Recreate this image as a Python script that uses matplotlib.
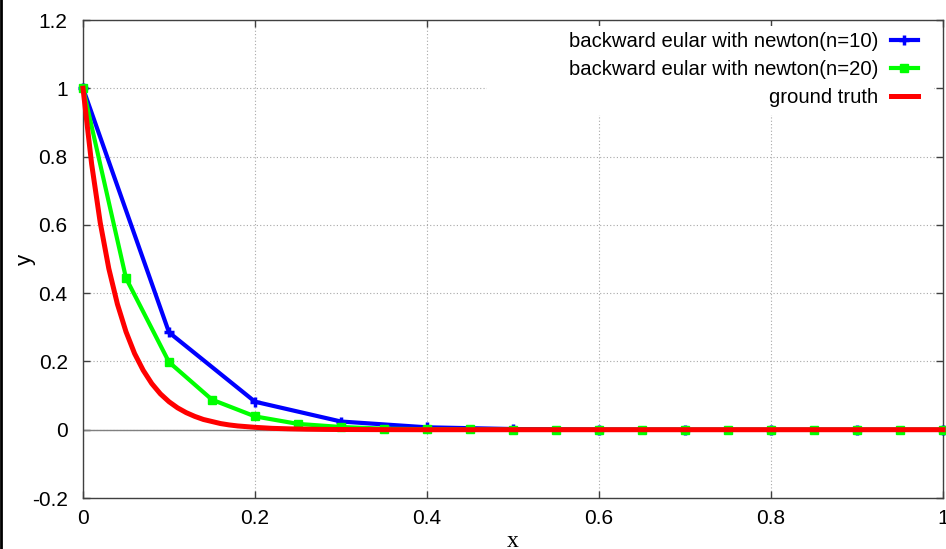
import matplotlib.pyplot as plt
from matplotlib.lines import Line2D
from matplotlib.patches import Rectangle

plt.rcParams['font.family'] = ['Liberation Sans', 'DejaVu Sans']

# backward euler with newton, 10 steps
x10 = [0.0, 0.1, 0.2, 0.3, 0.4, 0.5, 0.6, 0.7, 0.8, 0.9, 1.0]
y10 = [1.0, 0.285, 0.082, 0.024, 0.007, 0.002, 0.0005, 0.0001, 0.0, 0.0, 0.0]

# backward euler with newton, 20 steps
x20 = [0.0, 0.05, 0.1, 0.15, 0.2, 0.25, 0.3, 0.35, 0.4, 0.45, 0.5,
       0.55, 0.6, 0.65, 0.7, 0.75, 0.8, 0.85, 0.9, 0.95, 1.0]
y20 = [1.0, 0.444, 0.198, 0.088, 0.039, 0.017, 0.008, 0.003, 0.0015, 0.0007, 0.0003,
       0.0001, 0.0, 0.0, 0.0, 0.0, 0.0, 0.0, 0.0, 0.0, 0.0]

# ground truth curve
xg = [0.0, 0.01, 0.02, 0.03, 0.04, 0.05, 0.06, 0.07, 0.08, 0.09, 0.1,
      0.11, 0.12, 0.13, 0.14, 0.15, 0.16, 0.17, 0.18, 0.19, 0.2,
      0.22, 0.24, 0.26, 0.28, 0.3, 0.35, 0.4, 0.5, 0.6, 0.7, 0.8, 0.9, 1.0]
yg = [1.0, 0.779, 0.607, 0.472, 0.368, 0.287, 0.223, 0.174, 0.135, 0.105, 0.082,
      0.064, 0.050, 0.039, 0.030, 0.024, 0.018, 0.014, 0.011, 0.009, 0.007,
      0.004, 0.0025, 0.0015, 0.0009, 0.0006, 0.0002, 0.0, 0.0, 0.0, 0.0, 0.0, 0.0, 0.0]

labels = ['backward eular with newton(n=10)',
          'backward eular with newton(n=20)',
          'ground truth']

fig = plt.figure(figsize=(9.46, 5.49), dpi=100)
ax = fig.add_axes([83 / 946, 1 - 498 / 549, 860 / 946, 478 / 549])

ax.set_xlim(0, 1)
ax.set_ylim(-0.2, 1.2)
ax.set_xticks([0, 0.2, 0.4, 0.6, 0.8, 1.0])
ax.set_xticklabels(['0', '0.2', '0.4', '0.6', '0.8', '1'])
ax.set_yticks([-0.2, 0, 0.2, 0.4, 0.6, 0.8, 1.0, 1.2])
ax.set_yticklabels(['-0.2', '0', '0.2', '0.4', '0.6', '0.8', '1', '1.2'])
ax.tick_params(direction='in', length=5, width=1, color='#404040',
               top=True, right=True, labelsize=15)
ax.tick_params(axis='y', pad=11)
ax.tick_params(axis='x', pad=8)
for s in ax.spines.values():
    s.set_color('#404040')
    s.set_linewidth(1)

ax.set_axisbelow(True)
ax.grid(True, color='#a8a8a8', linestyle=(0, (1, 2)), linewidth=0.8)
ax.axhline(0, color='#808080', linewidth=1, zorder=0.6)

# white area behind the key
ax.add_patch(Rectangle((0.47, 0.921), 0.52, 0.262, facecolor='white',
                       edgecolor='none', zorder=0.8))

ax.plot(x10, y10, color='#0000ff', linewidth=3, marker='+', markersize=7,
        markeredgewidth=2.5, clip_on=False, zorder=3)
ax.plot(x20, y20, color='#00ff00', linewidth=3, marker='s', markersize=5.5,
        clip_on=False, zorder=4)
ax.plot(xg, yg, color='#ff0000', linewidth=3.6, clip_on=False, zorder=5)

handles = [
    Line2D([], [], color='#0000ff', linewidth=3, marker='+', markersize=7, markeredgewidth=2.5),
    Line2D([], [], color='#00ff00', linewidth=3, marker='s', markersize=5.5),
    Line2D([], [], color='#ff0000', linewidth=3.6),
]
ax.legend(handles, labels, loc='upper right', frameon=False, markerfirst=False,
          fontsize=14.6, handlelength=1.35, handletextpad=0.6,
          labelspacing=0.45, borderaxespad=0.2, bbox_to_anchor=(0.985, 1.0))

ax.set_xlabel('x', family='Liberation Serif', fontsize=17)
ax.xaxis.set_label_coords(0.5, -0.068)
ax.set_ylabel('y', fontsize=16)
ax.yaxis.set_label_coords(-0.055, 0.5)

# thin dark rule down the left edge of the canvas
fig.add_artist(Line2D([0.001, 0.001], [0, 1], color='black', linewidth=2,
                      transform=fig.transFigure))

fig.savefig('out.png', dpi=100)
